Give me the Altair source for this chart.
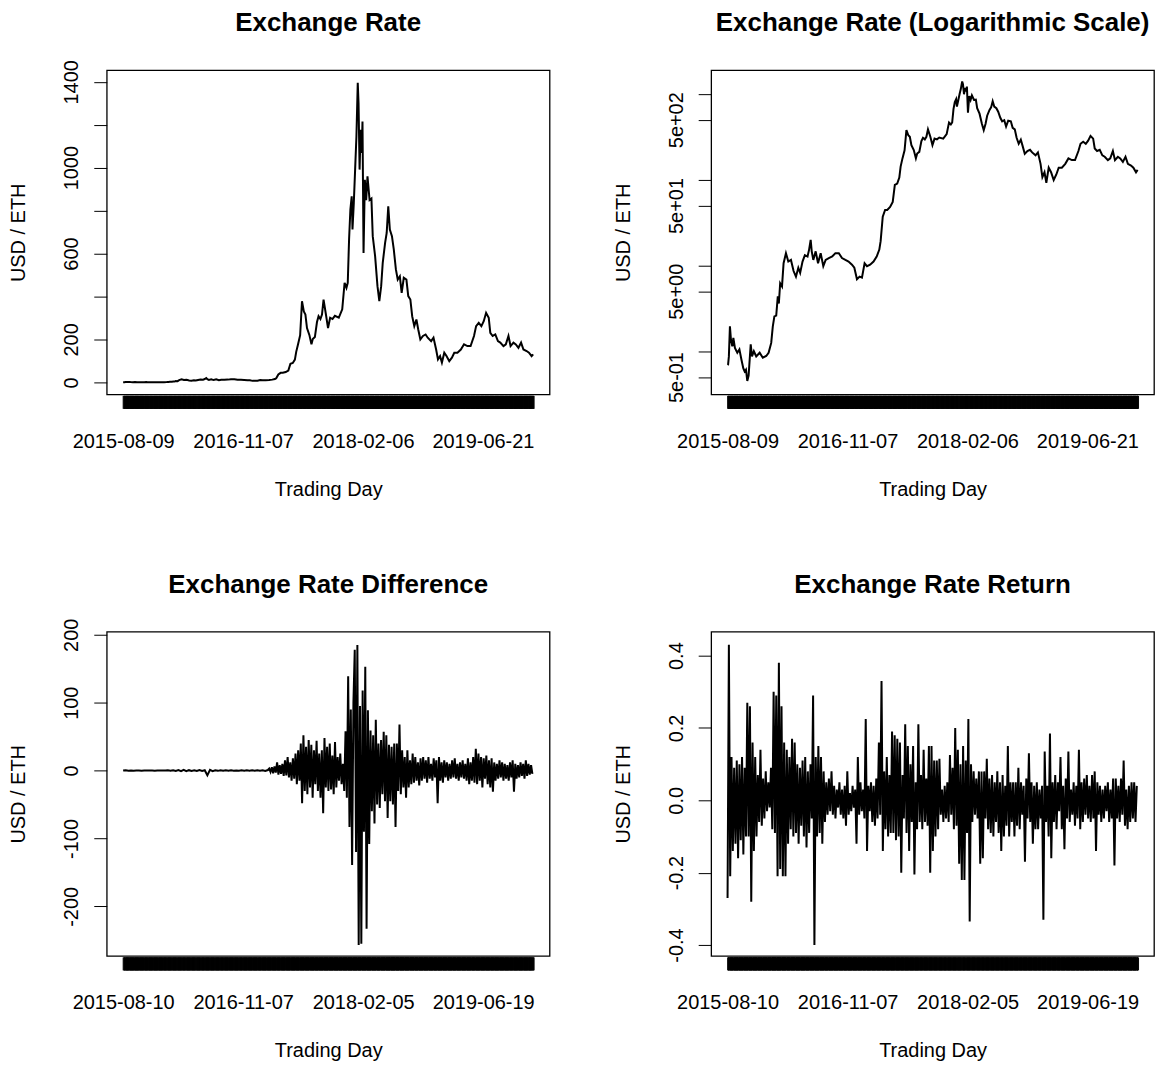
import altair as alt
import pandas as pd

FONT = "Liberation Sans"

# ---------------- data ----------------
N_PRICE = 1560  # number of trading days in the price series

price_day = [
    1, 3, 6, 10, 14, 19, 23, 29, 38, 46,
    54, 61, 66, 71, 76, 81, 89, 94, 101, 110,
    123, 135, 148, 157, 167, 173, 179, 186, 192, 196,
    201, 208, 214, 223, 232, 242, 252, 261, 270, 277,
    286, 295, 305, 311, 317, 321, 327, 336, 345, 355,
    365, 374, 386, 399, 411, 424, 436, 449, 461, 474,
    483, 493, 503, 512, 522, 531, 543, 556, 568, 578,
    583, 591, 600, 608, 619, 629, 637, 646, 654, 659,
    666, 674, 681, 688, 694, 700, 709, 717, 722, 730,
    738, 744, 751, 757, 763, 772, 780, 788, 797, 806,
    821, 834, 843, 850, 855, 860, 865, 870, 873, 878,
    883, 888, 893, 896, 900, 904, 908, 911, 915, 920,
    925, 930, 938, 945, 950, 959, 968, 975, 982, 988,
    997, 1003, 1009, 1015, 1023, 1030, 1038, 1045, 1053, 1060,
    1068, 1078, 1085, 1093, 1100, 1108, 1116, 1123, 1131, 1141,
    1151, 1159, 1172, 1181, 1191, 1198, 1206, 1213, 1222, 1231,
    1241, 1251, 1260, 1272, 1285, 1297, 1310, 1322, 1335, 1343,
    1353, 1363, 1372, 1381, 1391, 1397, 1406, 1416, 1426, 1435,
    1447, 1456, 1466, 1474, 1485, 1494, 1504, 1514, 1523, 1535,
    1544, 1554, 1560,
]
price_usd = [
    0.69, 0.70, 0.87, 1.95, 1.35, 1.14, 1.43, 1.09, 0.96, 1.05,
    0.79, 0.63, 0.58, 0.61, 0.45, 0.52, 1.2, 0.87, 1.0, 0.87,
    0.96, 0.84, 0.88, 0.96, 1.25, 1.95, 2.55, 2.6, 4.36, 3.6,
    6.2, 5.7, 10.6, 13.9, 11.1, 11.6, 8.6, 7.4, 9.4, 8.2,
    11.1, 13.2, 12.7, 15.3, 19.9, 14.6, 11.6, 14.6, 10.6, 13.9,
    9.8, 11.6, 12.2, 12.7, 13.9, 13.9, 12.2, 11.6, 11.1, 10.2,
    9.4, 6.9, 7.4, 7.2, 10.6, 9.8, 10.2, 11.1, 12.7, 15.3,
    19.2, 37, 44.4, 44.4, 48, 55, 86.7, 90, 106, 142,
    177, 220, 378, 330, 316, 253, 221, 177, 202, 211,
    281, 308, 295, 316, 385, 316, 253, 301, 295, 310,
    301, 340, 464, 440, 464, 665, 805, 867, 712, 836,
    991, 1146, 1396, 1301, 991, 1177, 1068, 1215, 603, 944,
    849, 960, 849, 856, 681, 588, 448, 378, 448, 557,
    650, 696, 820, 712, 681, 619, 526, 479, 494, 417,
    487, 479, 402, 386, 308, 262, 293, 246, 200, 216,
    223, 208, 192, 208, 153, 107, 122, 92, 138, 122,
    99, 115, 138, 138, 153, 177, 169, 169, 216, 262,
    277, 262, 285, 324, 301, 231, 216, 223, 192, 185,
    169, 177, 216, 169, 185, 177, 161, 185, 153, 146,
    138, 122, 130,
]

N_DIFF = 1559  # differences / returns have one day fewer

diff_day_quiet = list(range(1, 552, 10))
diff_quiet = [
    0.0, 0.5, -0.2, 0.1, -0.1, 0.1, 0.0, -0.1, 0.1, 0.0,
    0.0, 0.1, -0.1, 0.0, 0.0, 0.1, 0.0,
    0.3, -0.2, 0.6, -0.4, 0.8, -0.9, 1.0, -0.8, 0.6, -0.5,
    0.4, -0.6, 0.8, -0.5, 0.5, -7.0, 1.2, -0.8, 0.5, -0.4,
    0.6, -0.3, 0.3, -0.4, 0.3, -0.3, 0.2, -0.3, 0.3, -0.4,
    0.3, -0.2, 0.4, -0.3, 0.5, -0.3, 0.4, -0.6, 0.8,
]
diff_day_active = list(range(556, 1557, 5))
diff_active = [
    3, -2, 5, -4, 6, -3, 12, -6, 8,
    -5, 10, -8, 15, -7, 20, -10, 12, -15, 18,
    -12, 25, -20, 30, -15, 40, -48, 52, -30, 35,
    -35, 45, -25, 38, -40, 30, -20, 44, -30, 25,
    -40, 30, -63, 48, -25, 35, -30, 40, -28, 22,
    -35, 42, -25, 20, -15, 25, -20, 10, -30, 58,
    -40, 139, -83, 90, -139, 100, 178, -120, 185, -257,
    95, -255, 118, -90, 153, -233, 89, -108, 59, -60,
    52, -78, 75, -50, 40, -55, 45, -35, 57, -45,
    52, -70, 38, -45, 35, -50, 40, -83, 40, -30,
    68, -35, 30, -25, 20, -40, 30, -25, 15, -20,
    25, -18, 20, -15, 12, -22, 18, -15, 20, -12,
    15, -18, 20, -12, 10, -15, 18, -10, 15, -48,
    20, -15, 12, -18, 15, -10, 12, -15, 10, -12,
    15, -10, 18, -12, 10, -15, 12, -10, 15, -12,
    10, -15, 18, -20, 12, -15, 20, -18, 32, -20,
    25, -15, 20, -25, 18, -12, 22, -20, 15, -25,
    18, -31, 12, -15, 10, -12, 15, -10, 12, -15,
    10, -12, 8, -15, 12, -10, 15, -31, 10, -12,
    8, -10, 12, -8, 10, -12, 15, -8, 10, -6,
    8, -5,
]

ret_day = list(range(1, 1557, 5))
ret_val = [
    -0.27, 0.43, -0.21, 0.12, -0.14, 0.09, -0.12, 0.11, -0.16, 0.10,
    -0.11, 0.12, -0.15, 0.09, -0.10, 0.27, -0.10, 0.26, -0.28, 0.16,
    -0.14, 0.12, -0.10, 0.07, -0.06, 0.14, -0.07, 0.06, -0.05, 0.08,
    -0.03, 0.05, -0.02, 0.09, -0.08, 0.30, -0.09, 0.29, -0.21, 0.38,
    -0.19, 0.26, -0.21, 0.16, -0.21, 0.14, -0.12, 0.12, -0.08, 0.17,
    -0.10, 0.16, -0.09, 0.10, -0.12, 0.09, -0.07, 0.11, -0.10, 0.12,
    -0.13, 0.08, -0.09, 0.10, -0.05, 0.29, -0.40, 0.12, -0.10, 0.15,
    -0.09, 0.12, -0.12, 0.08, -0.06, 0.05, -0.04, 0.06, -0.03, 0.08,
    -0.04, 0.04, -0.05, 0.03, -0.02, 0.05, -0.04, 0.03, -0.05, 0.04,
    -0.07, 0.08, -0.04, 0.02, -0.03, 0.04, -0.02, 0.03, -0.12, 0.12,
    -0.04, 0.05, -0.03, 0.03, -0.05, 0.225, -0.14, 0.04, -0.03, 0.05,
    -0.06, 0.04, -0.07, 0.06, -0.05, 0.16, -0.04, 0.33, -0.14, 0.08,
    -0.08, 0.12, -0.10, 0.07, -0.09, 0.19, -0.09, 0.18, -0.11, 0.17,
    -0.10, 0.16, -0.20, 0.07, -0.05, 0.21, -0.09, 0.15, -0.14, 0.10,
    -0.06, 0.15, -0.205, 0.05, -0.08, 0.21, -0.06, 0.07, -0.08, 0.14,
    -0.06, 0.06, -0.07, 0.15, -0.20, 0.15, -0.14, 0.11, -0.10, 0.11,
    -0.08, 0.115, -0.04, 0.03, -0.06, 0.04, -0.05, 0.05, -0.06, 0.125,
    -0.04, 0.09, -0.08, 0.20, -0.07, 0.14, -0.175, 0.10, -0.22, 0.15,
    -0.22, 0.11, -0.09, 0.225, -0.335, 0.10, -0.06, 0.08, -0.04, 0.06,
    -0.05, 0.08, -0.175, 0.08, -0.16, 0.08, -0.05, 0.115, -0.08, 0.06,
    -0.09, 0.07, -0.10, 0.05, -0.06, 0.08, -0.09, 0.05, -0.14, 0.07,
    -0.10, 0.04, -0.07, 0.15, -0.10, 0.05, -0.06, 0.05, -0.10, 0.05,
    -0.07, 0.09, -0.08, 0.05, -0.04, 0.04, -0.17, 0.06, -0.05, 0.13,
    -0.06, 0.05, -0.12, 0.04, -0.08, 0.05, -0.08, 0.03, -0.05, 0.04,
    -0.33, 0.135, -0.06, 0.04, -0.10, 0.185, -0.16, 0.05, -0.06, 0.07,
    -0.08, 0.05, -0.03, 0.12, -0.08, 0.04, -0.135, 0.06, -0.05, 0.135,
    -0.06, 0.03, -0.04, 0.05, -0.07, 0.04, -0.05, 0.14, -0.08, 0.05,
    -0.06, 0.06, -0.04, 0.07, -0.05, 0.04, -0.06, 0.07, -0.05, 0.08,
    -0.14, 0.05, -0.04, 0.04, -0.06, 0.03, -0.05, 0.04, -0.03, 0.05,
    -0.06, 0.03, -0.05, 0.06, -0.18, 0.06, -0.05, 0.04, -0.06, 0.06,
    -0.04, 0.11, -0.07, 0.03, -0.08, 0.04, -0.06, 0.05, -0.05, 0.05,
    -0.06, 0.04,
]

label_days = [1, 457, 913, 1369]
top_labels = ["2015-08-09", "2016-11-07", "2018-02-06", "2019-06-21"]
bottom_labels = ["2015-08-10", "2016-11-07", "2018-02-05", "2019-06-19"]

assert len(price_day) == len(price_usd)
assert len(diff_day_quiet) == len(diff_quiet)
assert len(diff_day_active) == len(diff_active)
assert len(ret_day) == len(ret_val)

price_df = pd.DataFrame({"day": price_day, "value": price_usd})
diff_df = pd.DataFrame({"day": diff_day_quiet + diff_day_active,
                        "value": diff_quiet + diff_active})
ret_df = pd.DataFrame({"day": ret_day, "value": ret_val})

# ---------------- layout ----------------
W, H = 444, 325


def x_axis(labels, n):
    expr = " : ".join(f"datum.value === {d} ? '{t}'" for d, t in zip(label_days, labels)) + " : ''"
    return alt.Axis(
        values=list(range(1, n + 1)), labelExpr=expr, title="Trading Day",
        domain=False, grid=False, tickSize=13, tickColor="black", tickWidth=1, offset=1,
        labelFont=FONT, labelFontSize=20, labelColor="black", labelPadding=23,
        labelOverlap=False, labelFlush=False, labelBound=False, labelAngle=0,
        titleFont=FONT, titleFontSize=20, titleFontWeight="normal", titleColor="black",
        titleY=94, titleBaseline="middle",
    )


def y_axis(values, expr):
    return alt.Axis(
        values=values, labelExpr=expr, title="USD / ETH",
        domain=False, grid=False, tickSize=13, tickColor="black", tickWidth=1,
        labelFont=FONT, labelFontSize=20, labelColor="black",
        labelAngle=270, labelAlign="center", labelBaseline="bottom", labelPadding=12,
        labelOverlap=False, labelFlush=False, labelBound=False,
        titleFont=FONT, titleFontSize=20, titleFontWeight="normal", titleColor="black",
        titleAngle=270, titleX=-88, titleY=H / 2, titleAlign="center", titleBaseline="middle",
    )


def panel(df, title, title_offset, xlabels, n, ydomain, yvals, yexpr, log=False):
    pad = 0.04 * (n - 1)
    return alt.Chart(df).mark_line(color="black", strokeWidth=2).encode(
        x=alt.X("day:Q", scale=alt.Scale(domain=[1 - pad, n + pad], nice=False, zero=False),
                axis=x_axis(xlabels, n)),
        y=alt.Y("value:Q",
                scale=alt.Scale(type="log" if log else "linear", domain=ydomain, nice=False, zero=False),
                axis=y_axis(yvals, yexpr)),
    ).properties(
        width=W, height=H,
        title=alt.TitleParams(text=title, font=FONT, fontSize=26, fontWeight="bold", color="black",
                              anchor="middle", frame="group", baseline="alphabetic",
                              offset=title_offset),
    )


p1 = panel(price_df, "Exchange Rate", 2.4, top_labels, N_PRICE, [-56, 1454],
           [0, 200, 400, 600, 800, 1000, 1200, 1400],
           "indexof([0, 200, 600, 1000, 1400], datum.value) >= 0 ? toString(datum.value) : ''")
p2 = panel(price_df, "Exchange Rate (Logarithmic Scale)", 13, top_labels, N_PRICE, [0.314, 1888],
           [0.5, 1, 5, 10, 50, 100, 500, 1000],
           "datum.value === 0.5 ? '5e-01' : datum.value === 5 ? '5e+00' : "
           "datum.value === 50 ? '5e+01' : datum.value === 500 ? '5e+02' : ''", log=True)
p3 = panel(diff_df, "Exchange Rate Difference", -0.6, bottom_labels, N_DIFF, [-273, 204.5],
           [-200, -100, 0, 100, 200], "toString(datum.value)")
p4 = panel(ret_df, "Exchange Rate Return", 13, bottom_labels, N_DIFF, [-0.43, 0.466],
           [-0.4, -0.2, 0, 0.2, 0.4],
           "datum.value === 0 ? '0.0' : (datum.value < 0 ? '-' : '') + format(abs(datum.value), '.1f')")

chart = alt.concat(
    p1, p2, p3, p4, columns=2, spacing={"row": 238, "column": 162}, bounds="flush"
).properties(
    padding={"left": 0, "top": 0, "right": 0, "bottom": 0}
).configure(
    font=FONT, background="white"
).configure_view(
    stroke="black", strokeWidth=1.3
)

chart.save("out.html", embed_options={"renderer": "svg", "actions": False})
